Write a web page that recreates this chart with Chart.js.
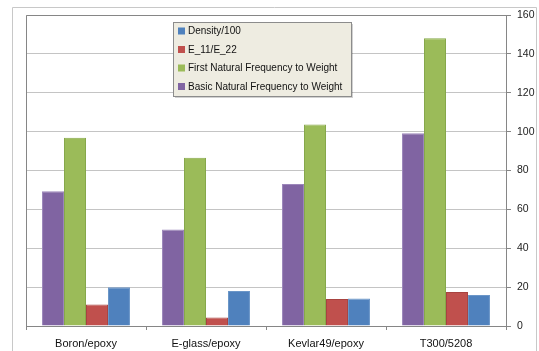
<!DOCTYPE html>
<html>
<head>
<meta charset="utf-8">
<script src="https://cdn.jsdelivr.net/npm/chart.js@4.4.0/dist/chart.umd.min.js"></script>
<style>
  html, body { margin: 0; padding: 0; background: #fff; }
  #wrap { width: 539px; height: 351px; position: relative; }
</style>
</head>
<body>
<div id="wrap"><canvas id="chart" width="539" height="351"></canvas></div>
<script>
// categories and series
const materials = ['Boron/epoxy', 'E-glass/epoxy', 'Kevlar49/epoxy', 'T300/5208'];
const basicFreqToWeight = [69.3, 49.7, 73.0, 99.1];
const firstFreqToWeight = [96.9, 86.6, 103.7, 148.1];
const modulusRatio = [11.1, 4.4, 13.9, 17.5];
const densityOver100 = [20.0, 18.0, 14.1, 16.0];
const valueTicks = [0, 20, 40, 60, 80, 100, 120, 140, 160];

const FONT = "'Liberation Sans', Arial, sans-serif";

// frame + plot area border
const framePlugin = {
    id: 'frame',
    beforeDraw(chart) {
        const ctx = chart.ctx;
        ctx.save();
        ctx.fillStyle = '#fff';
        ctx.fillRect(0, 0, chart.width, chart.height);
        ctx.strokeStyle = '#c8c8c8';
        ctx.lineWidth = 1;
        ctx.beginPath();
        ctx.moveTo(12.5, chart.height);
        ctx.lineTo(12.5, 7.5);
        ctx.lineTo(536.5, 7.5);
        ctx.lineTo(536.5, chart.height);
        ctx.stroke();
        ctx.restore();
    },
    afterDatasetsDraw(chart) {
        const ctx = chart.ctx;
        const a = chart.chartArea;
        ctx.save();
        ctx.strokeStyle = '#868686';
        ctx.lineWidth = 1;
        ctx.beginPath();
        ctx.moveTo(Math.round(a.left) + 0.5, Math.round(a.bottom));
        ctx.lineTo(Math.round(a.left) + 0.5, Math.round(a.top) + 0.5);
        ctx.lineTo(Math.round(a.right), Math.round(a.top) + 0.5);
        ctx.stroke();
        ctx.restore();
    }
};

// Excel style legend box floating over the plot
const legendBoxPlugin = {
    id: 'legendBox',
    afterDraw(chart) {
        const ctx = chart.ctx;
        const x = 173, y = 22, w = 178, h = 74;
        ctx.save();
        ctx.fillStyle = 'rgba(0,0,0,0.18)';
        ctx.fillRect(x + 2, y + 2, w, h);
        ctx.fillStyle = '#eeece1';
        ctx.fillRect(x, y, w, h);
        ctx.strokeStyle = '#8c8c8c';
        ctx.lineWidth = 1;
        ctx.strokeRect(x + 0.5, y + 0.5, w, h);
        ctx.font = '10px ' + FONT;
        ctx.textBaseline = 'middle';
        const sets = chart.data.datasets.slice().reverse();
        sets.forEach((ds, i) => {
            const cy = y + 9 + i * 18.5;
            ctx.fillStyle = ds.backgroundColor;
            ctx.fillRect(x + 5, cy - 3.5, 7, 7);
            ctx.fillStyle = '#111';
            ctx.fillText(ds.label, x + 15, cy + 0.5);
        });
        ctx.restore();
    }
};

new Chart(document.getElementById('chart'), {
    type: 'bar',
    data: {
        labels: materials,
        datasets: [
            { label: 'Basic Natural Frequency to Weight', data: basicFreqToWeight, backgroundColor: '#8064a2', borderColor: '#9c86ba' },
            { label: 'First Natural Frequency to Weight', data: firstFreqToWeight, backgroundColor: '#9bbb59', borderColor: '#86a84a' },
            { label: 'E_11/E_22', data: modulusRatio, backgroundColor: '#c0504d', borderColor: '#a84340' },
            { label: 'Density/100', data: densityOver100, backgroundColor: '#4f81bd', borderColor: '#6b96c8' }
        ]
    },
    options: {
        responsive: false,
        animation: false,
        layout: { padding: { left: 26, top: 15, right: 0, bottom: 0 } },
        datasets: {
            bar: { borderWidth: 1, categoryPercentage: 0.733, barPercentage: 1 }
        },
        plugins: {
            legend: { display: false },
            tooltip: { enabled: false }
        },
        scales: {
            x: {
                grid: { display: true, drawOnChartArea: false, tickLength: 4, color: '#868686', offset: true },
                border: { display: true, color: '#868686' },
                ticks: { font: { family: FONT, size: 11 }, color: '#111', padding: 7, maxRotation: 0 },
                afterFit(scale) { scale.height = 25; }
            },
            y: {
                position: 'right',
                min: 0,
                max: 160,
                afterBuildTicks(scale) { scale.ticks = valueTicks.map(v => ({ value: v })); },
                grid: { color: '#c4c4c4', tickColor: '#868686', tickLength: 5 },
                border: { display: true, color: '#868686' },
                ticks: { font: { family: FONT, size: 10.5 }, color: '#222', padding: 6 },
                afterFit(scale) { scale.width = 33; }
            }
        }
    },
    plugins: [framePlugin, legendBoxPlugin]
});
</script>
</body>
</html>
